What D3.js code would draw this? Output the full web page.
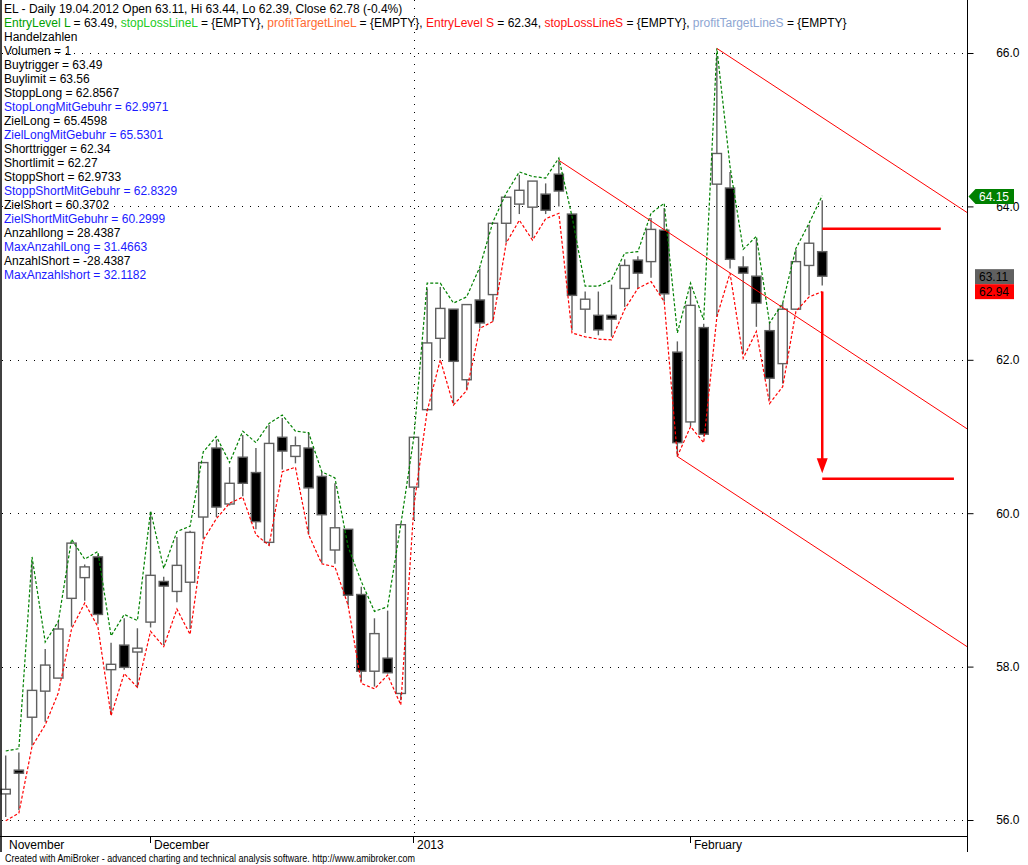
<!DOCTYPE html>
<html>
<head>
<meta charset="utf-8">
<title>EL - Daily</title>
<script src="https://cdn.jsdelivr.net/npm/d3@7"></script>
<style>
  body { margin: 0; background: #fff; }
  svg { display: block; font-family: 'Liberation Sans', Arial, sans-serif; }
</style>
</head>
<body>
<div id="chart_container"></div>
<script>
// daily bars, oldest first
const opens  = [56.34, 56.65, 57.34, 57.68, 57.85, 58.89, 59.16, 59.43, 57.96, 58.28,
                58.19, 58.58, 59.11, 58.98, 59.10, 59.95, 60.85, 60.12, 60.73, 60.53,
                59.62, 60.99, 60.74, 60.85, 60.48, 59.52, 59.79, 58.94, 57.94, 58.11,
                57.65, 60.34, 61.35, 62.28, 62.66, 61.74, 62.78, 62.85, 63.78, 64.03,
                63.99, 64.16, 64.42, 63.90, 62.66, 62.58, 62.58, 62.93, 63.30, 63.28,
                63.69, 62.10, 61.19, 62.42, 64.29, 64.24, 63.21, 63.09, 62.38, 61.95,
                62.66, 63.23, 63.41];
const highs  = [56.84, 56.88, 59.36, 58.23, 58.60, 59.61, 59.33, 59.46, 58.31, 58.63,
                58.50, 60.02, 59.17, 59.69, 59.77, 60.66, 60.96, 60.60, 61.02, 60.85,
                61.15, 61.24, 61.00, 61.05, 60.54, 60.39, 59.79, 59.04, 58.63, 58.73,
                59.87, 60.99, 62.93, 62.95, 62.66, 62.72, 63.19, 63.78, 64.12, 64.41,
                64.33, 64.30, 64.60, 63.90, 62.89, 62.89, 62.98, 63.31, 63.35, 63.85,
                63.98, 62.24, 62.95, 62.47, 65.96, 64.45, 63.35, 63.57, 62.50, 62.74,
                63.43, 63.76, 64.08];
const lows   = [56.04, 56.13, 56.97, 57.28, 57.85, 58.52, 58.86, 58.56, 57.37, 57.96,
                57.73, 58.51, 58.28, 58.84, 58.49, 59.67, 59.95, 60.10, 60.22, 59.79,
                59.58, 60.57, 60.65, 59.72, 59.35, 59.34, 58.80, 57.81, 57.74, 57.91,
                57.56, 59.91, 61.33, 62.02, 61.43, 61.61, 62.41, 62.50, 63.53, 63.90,
                63.59, 63.90, 64.00, 62.39, 62.35, 62.32, 62.30, 62.69, 62.93, 63.07,
                62.76, 60.74, 61.13, 61.00, 62.56, 63.19, 62.08, 62.43, 61.48, 61.69,
                62.66, 62.84, 62.97];
const closes = [56.40, 56.61, 57.69, 58.02, 58.49, 59.61, 59.30, 58.68, 58.03, 57.99,
                58.24, 59.19, 59.05, 59.32, 59.75, 60.66, 60.08, 60.39, 60.39, 59.89,
                60.91, 60.81, 60.88, 60.33, 59.98, 59.81, 58.93, 57.94, 58.43, 57.92,
                59.85, 60.99, 62.22, 62.67, 61.98, 62.72, 62.48, 63.78, 64.12, 64.21,
                64.33, 63.95, 64.20, 62.84, 62.79, 62.39, 62.53, 63.23, 63.13, 63.70,
                62.86, 60.92, 62.71, 61.03, 64.69, 63.31, 63.13, 62.74, 61.76, 62.66,
                63.28, 63.52, 63.09];

// green (upper) and red (lower) dashed stop lines
const upperLine = [56.90, 56.93, 59.43, 58.32, 58.59, 59.66, 59.40, 59.50, 58.40, 58.68,
                   58.60, 60.03, 59.28, 59.76, 59.83, 60.80, 61.00, 60.66, 61.07, 60.92,
                   61.17, 61.28, 61.07, 61.05, 60.54, 60.46, 59.56, 59.11, 58.72, 58.78,
                   59.85, 61.00, 63.00, 63.00, 62.74, 62.82, 63.21, 63.80, 64.17, 64.45,
                   64.39, 64.37, 64.63, 63.87, 62.96, 62.96, 63.04, 63.39, 63.41, 63.91,
                   64.04, 62.35, 63.00, 62.52, 66.06, 64.52, 63.44, 63.61, 62.48, 62.74,
                   63.45, 63.78, 64.14];
const lowerLine = [55.99, 56.09, 56.96, 57.24, 57.66, 58.49, 58.83, 58.52, 57.36, 57.91,
                   57.73, 58.46, 58.26, 58.75, 58.42, 59.65, 59.93, 60.13, 60.21, 59.72,
                   59.58, 60.54, 60.60, 59.72, 59.34, 59.30, 58.80, 57.78, 57.71, 57.89,
                   57.50, 60.10, 61.33, 62.00, 61.41, 61.60, 62.41, 62.50, 63.52, 63.82,
                   63.56, 63.84, 63.91, 62.35, 62.30, 62.27, 62.26, 62.66, 62.93, 63.02,
                   62.76, 60.74, 61.13, 60.92, 62.56, 63.13, 62.02, 62.37, 61.43, 61.65,
                   62.63, 62.82, 62.89];

const monthLabels = ['November', 'December', '2013', 'February'];
const monthStarts = [0, 11, 31, 52];
const yearStart = 31;
const priceTicks = [56, 58, 60, 62, 64, 66];

// parallel down channel
const trendStartIdx   = [54, 42, 51];
const trendStartPrice = [66.06, 64.60, 60.74];
const trendEndIdx     = 73;
const trendEndPrice   = [63.92, 61.10, 58.26];

// trade target markers at the last bar
const targetIdx = 62;
const targetPrices = [63.71, 60.45];
const targetEndIdx = [71, 72];
const arrowFrom = 62.89;
const arrowTo = 60.52;

const lastLabelValues = [64.15, 63.11, 62.94];

const headerLine = 'EL - Daily 19.04.2012 Open 63.11, Hi 63.44, Lo 62.39, Close 62.78 (-0.4%)';
const legendParts = ['EntryLevel L', ' = 63.49, ', 'stopLossLineL', ' = {EMPTY}, ',
                     'profitTargetLineL', ' = {EMPTY}, ', 'EntryLevel S', ' = 62.34, ',
                     'stopLossLineS', ' = {EMPTY}, ', 'profitTargetLineS', ' = {EMPTY}'];
const legendColors = ['#00a000', '#000', '#22cc22', '#000', '#ff6a30', '#000',
                      '#ff1010', '#000', '#ff1010', '#000', '#8ea6d2', '#000'];
const infoLines = ['Handelzahlen', 'Volumen = 1', 'Buytrigger = 63.49', 'Buylimit = 63.56',
                   'StoppLong = 62.8567', 'StopLongMitGebuhr = 62.9971', 'ZielLong = 65.4598',
                   'ZielLongMitGebuhr = 65.5301', 'Shorttrigger = 62.34', 'Shortlimit = 62.27',
                   'StoppShort = 62.9733', 'StoppShortMitGebuhr = 62.8329', 'ZielShort = 60.3702',
                   'ZielShortMitGebuhr = 60.2999', 'Anzahllong = 28.4387', 'MaxAnzahlLong = 31.4663',
                   'AnzahlShort = -28.4387', 'MaxAnzahlshort = 32.1182'];
const infoBlue = [false, false, false, false, false, true, false, true, false, false,
                  false, true, false, true, false, true, false, true];

const w = 1028;
const h = 865;
const plotRight = 967.5;
const plotBottom = 836.5;


window.onload = () => {
  const svg = d3.select('#chart_container')
                .append('svg')
                .attr('width', w)
                .attr('height', h);

  const x = d3.scaleLinear().domain([0, 73]).range([5.7, 967.1]);
  const y = d3.scaleLinear().domain([56, 66]).range([820, 53]);

  drawGrid(svg, x, y);
  drawCandles(svg, x, y);
  drawStopLines(svg, x, y);
  drawChannel(svg, x, y);
  drawTargets(svg, x, y);
  drawAxes(svg, x, y);
  drawTexts(svg);
};  // End window.onload()


function drawGrid(svg, x, y) {
  svg.append('g').selectAll('line')
     .data(priceTicks)
     .enter()
     .append('line')
     .attr('x1', 2)
     .attr('x2', plotRight)
     .attr('y1', d => Math.round(y(d)) + 0.5)
     .attr('y2', d => Math.round(y(d)) + 0.5)
     .attr('stroke', '#000')
     .attr('stroke-dasharray', '1,7');

  svg.append('line')
     .attr('x1', Math.round(x(yearStart)) + 0.5)
     .attr('x2', Math.round(x(yearStart)) + 0.5)
     .attr('y1', 0)
     .attr('y2', plotBottom)
     .attr('stroke', '#000')
     .attr('stroke-dasharray', '1,7');
}  // End drawGrid()


function drawCandles(svg, x, y) {
  const bars = opens.map((o, i) => ({ i: i, o: o, h: highs[i], l: lows[i], c: closes[i] }));
  const g = svg.append('g');

  g.selectAll('line')
   .data(bars)
   .enter()
   .append('line')
   .attr('x1', d => x(d.i))
   .attr('x2', d => x(d.i))
   .attr('y1', d => y(d.h))
   .attr('y2', d => y(d.l))
   .attr('stroke', '#606060')
   .attr('stroke-width', 1.4);

  g.selectAll('rect')
   .data(bars)
   .enter()
   .append('rect')
   .attr('x', d => x(d.i) - 4.6)
   .attr('width', 9.2)
   .attr('y', d => y(Math.max(d.o, d.c)))
   .attr('height', d => Math.max(1, Math.abs(y(d.o) - y(d.c))))
   .attr('fill', d => d.c >= d.o ? '#fff' : '#000')
   .attr('stroke', '#606060')
   .attr('stroke-width', 1.4);
}  // End drawCandles()


function drawStopLines(svg, x, y) {
  const line = d3.line()
                 .x((d, i) => x(i))
                 .y(d => y(d));

  svg.append('path')
     .attr('d', line(upperLine))
     .attr('fill', 'none')
     .attr('stroke', '#008000')
     .attr('stroke-width', 1.2)
     .attr('stroke-dasharray', '3,2');

  svg.append('path')
     .attr('d', line(lowerLine))
     .attr('fill', 'none')
     .attr('stroke', '#ff0000')
     .attr('stroke-width', 1.2)
     .attr('stroke-dasharray', '3,2');
}  // End drawStopLines()


function drawChannel(svg, x, y) {
  svg.append('g').selectAll('line')
     .data(trendStartIdx)
     .enter()
     .append('line')
     .attr('x1', d => x(d))
     .attr('y1', (d, i) => y(trendStartPrice[i]))
     .attr('x2', x(trendEndIdx))
     .attr('y2', (d, i) => y(trendEndPrice[i]))
     .attr('stroke', '#ff0000')
     .attr('stroke-width', 1);
}  // End drawChannel()


function drawTargets(svg, x, y) {
  svg.append('g').selectAll('line')
     .data(targetPrices)
     .enter()
     .append('line')
     .attr('x1', x(targetIdx))
     .attr('x2', (d, i) => x(targetEndIdx[i]))
     .attr('y1', d => y(d))
     .attr('y2', d => y(d))
     .attr('stroke', '#ff0000')
     .attr('stroke-width', 2.5);

  const ax = x(targetIdx);
  const tip = y(arrowTo);
  svg.append('line')
     .attr('x1', ax)
     .attr('x2', ax)
     .attr('y1', y(arrowFrom))
     .attr('y2', tip - 12)
     .attr('stroke', '#ff0000')
     .attr('stroke-width', 2.5);
  svg.append('path')
     .attr('d', `M${ax - 5.5},${tip - 15} L${ax + 5.5},${tip - 15} L${ax},${tip} Z`)
     .attr('fill', '#ff0000');
}  // End drawTargets()


function drawAxes(svg, x, y) {
  // frame
  svg.append('line')
     .attr('x1', 1).attr('x2', 1)
     .attr('y1', 0).attr('y2', 852)
     .attr('stroke', '#000').attr('stroke-width', 1.5);
  svg.append('line')
     .attr('x1', plotRight).attr('x2', plotRight)
     .attr('y1', 0).attr('y2', 852)
     .attr('stroke', '#000').attr('stroke-width', 1);
  svg.append('line')
     .attr('x1', 0).attr('x2', plotRight)
     .attr('y1', plotBottom).attr('y2', plotBottom)
     .attr('stroke', '#000').attr('stroke-width', 1);

  // price axis on the right
  const yAxis = d3.axisRight(y)
                  .tickValues(priceTicks)
                  .tickFormat(d3.format('.1f'))
                  .tickSize(6);
  const ya = svg.append('g')
                .attr('transform', `translate(${plotRight},0)`)
                .call(yAxis);
  ya.select('.domain').remove();
  ya.selectAll('line').attr('stroke', '#000');
  ya.selectAll('text')
    .attr('x', 52)
    .attr('text-anchor', 'end')
    .attr('fill', '#000')
    .style('font-size', '12px')
    .style('font-family', "'Liberation Sans', Arial, sans-serif");

  // month axis
  const mx = svg.append('g');
  mx.selectAll('line')
    .data(monthStarts.slice(1))
    .enter()
    .append('line')
    .attr('x1', d => Math.round(x(d)) - 0.5)
    .attr('x2', d => Math.round(x(d)) - 0.5)
    .attr('y1', plotBottom)
    .attr('y2', 843)
    .attr('stroke', '#000');
  mx.selectAll('text')
    .data(monthStarts)
    .enter()
    .append('text')
    .attr('x', (d, i) => i === 0 ? 9 : Math.round(x(d)) + 3)
    .attr('y', 849)
    .style('font-size', '12px')
    .text((d, i) => monthLabels[i]);

  // last value tags
  const gy = y(lastLabelValues[0]) + 1.5;
  svg.append('path')
     .attr('d', `M${plotRight + 1},${gy} L${plotRight + 8},${gy - 7.5} L1014,${gy - 7.5} L1014,${gy + 7.5} L${plotRight + 8},${gy + 7.5} Z`)
     .attr('fill', '#008000');
  svg.append('text')
     .attr('x', 979).attr('y', gy + 4.5)
     .attr('fill', '#fff')
     .style('font-size', '12px')
     .text(lastLabelValues[0].toFixed(2));

  const by = y(lastLabelValues[1]) + 2;
  const boxColors = ['#606060', '#ff0000'];
  [1, 2].forEach((k, j) => {
    const cy = by + j * 15;
    svg.append('rect')
       .attr('x', 975).attr('y', cy - 7.5)
       .attr('width', 39).attr('height', 15)
       .attr('fill', boxColors[j]);
    svg.append('text')
       .attr('x', 979).attr('y', cy + 4.5)
       .attr('fill', '#000')
       .style('font-size', '12px')
       .text(lastLabelValues[k].toFixed(2));
  });
}  // End drawAxes()


function drawTexts(svg) {
  const t = svg.append('g').style('font-size', '12px');

  t.append('text')
   .attr('x', 4).attr('y', 13)
   .text(headerLine);

  const legend = t.append('text')
                  .attr('x', 4).attr('y', 27);
  legendParts.forEach((p, i) => {
    legend.append('tspan')
          .attr('fill', legendColors[i])
          .style('white-space', 'pre')
          .text(p);
  });
  legend.attr('xml:space', 'preserve');

  t.selectAll('text.info')
   .data(infoLines)
   .enter()
   .append('text')
   .attr('class', 'info')
   .attr('x', 4)
   .attr('y', (d, i) => 41 + i * 14)
   .attr('fill', (d, i) => infoBlue[i] ? '#1a1aff' : '#000')
   .text(d => d);

  svg.append('text')
     .attr('x', 5).attr('y', 862)
     .attr('textLength', 410)
     .attr('lengthAdjust', 'spacingAndGlyphs')
     .style('font-size', '11px')
     .text('Created with AmiBroker - advanced charting and technical analysis software. http://www.amibroker.com');
}  // End drawTexts()
</script>
</body>
</html>
